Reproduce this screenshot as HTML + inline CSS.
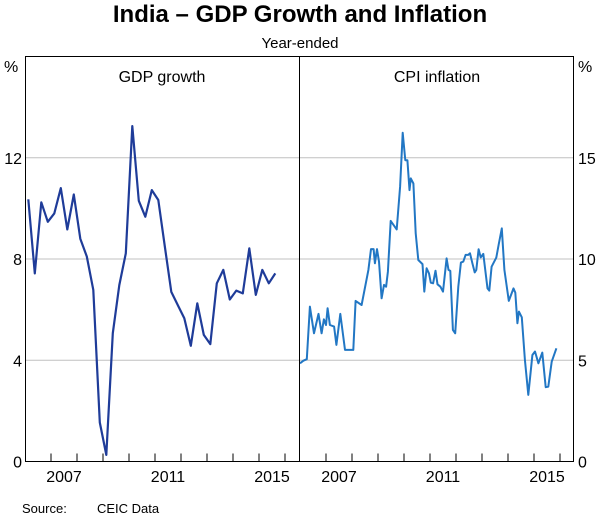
<!DOCTYPE html>
<html><head><meta charset="utf-8"><style>
body{margin:0;background:#fff;font-family:"Liberation Sans",sans-serif}
svg text{font-family:"Liberation Sans",sans-serif;fill:#000}
</style></head><body>
<svg id="c" width="600" height="520" xmlns="http://www.w3.org/2000/svg">
<text x="300" y="22" text-anchor="middle" font-size="24" font-weight="bold">India – GDP Growth and Inflation</text>
<text x="300" y="48" text-anchor="middle" font-size="15">Year-ended</text>
<text x="162" y="82" text-anchor="middle" font-size="16">GDP growth</text>
<text x="437" y="82" text-anchor="middle" font-size="16">CPI inflation</text>
<text x="4" y="72" font-size="16">%</text>
<text x="578" y="72" font-size="16">%</text>
<text x="22" y="513" font-size="13">Source:</text>
<text x="97" y="513" font-size="13">CEIC Data</text>
<g id="grid"></g><g id="ticks"></g><g id="lines"></g><g id="labels"></g>
<rect x="25.5" y="56.5" width="548" height="405" fill="none" stroke="#000" stroke-width="1"/>
<line x1="299.5" y1="56.5" x2="299.5" y2="461.5" stroke="#000"/>
</svg>
<script>
{
const gdpStart = 2006.125;
const gdpValues = [10.36,7.43,10.24,9.47,9.8,10.8,9.17,10.55,8.8,8.1,6.78,1.54,0.26,5.07,6.97,8.22,13.25,10.3,9.67,10.72,10.33,8.5,6.7,6.18,5.66,4.57,6.25,5.0,4.64,7.04,7.57,6.4,6.75,6.64,8.42,6.58,7.57,7.04,7.43];
const cpiDates = [2006.00,2006.13,2006.26,2006.38,2006.54,2006.71,2006.83,2006.92,2007.00,2007.06,2007.15,2007.31,2007.40,2007.55,2007.73,2008.05,2008.14,2008.37,2008.63,2008.73,2008.83,2008.88,2008.96,2009.04,2009.14,2009.23,2009.31,2009.38,2009.49,2009.72,2009.85,2009.95,2010.05,2010.13,2010.21,2010.26,2010.36,2010.45,2010.55,2010.71,2010.78,2010.87,2010.96,2011.03,2011.12,2011.21,2011.29,2011.40,2011.50,2011.64,2011.71,2011.78,2011.88,2011.97,2012.09,2012.19,2012.28,2012.37,2012.47,2012.54,2012.63,2012.72,2012.78,2012.87,2012.95,2013.05,2013.21,2013.28,2013.37,2013.55,2013.64,2013.76,2013.86,2014.03,2014.21,2014.28,2014.36,2014.42,2014.53,2014.65,2014.78,2014.94,2015.04,2015.17,2015.32,2015.45,2015.55,2015.68,2015.86];
const cpiValues = [4.85,4.98,5.05,7.65,6.33,7.29,6.33,7.02,6.74,7.57,6.74,6.66,5.76,7.29,5.51,5.51,7.93,7.73,9.46,10.49,10.49,9.79,10.49,9.87,8.06,8.72,8.63,9.38,11.88,11.46,13.57,16.23,14.88,14.88,13.40,13.98,13.73,11.27,9.95,9.75,8.39,9.54,9.29,8.83,8.80,9.42,8.75,8.63,8.39,10.03,9.46,9.41,6.50,6.33,8.63,9.82,9.87,10.20,10.20,10.28,9.79,9.34,9.46,10.48,10.08,10.25,8.55,8.44,9.62,10.07,10.69,11.51,9.46,7.93,8.55,8.34,6.83,7.40,7.12,5.02,3.29,5.26,5.43,4.85,5.38,3.67,3.70,4.93,5.59];
const leftTicks = [0,4,8,12];
const rightTicks = [0,5,10,15];
const yearTicks = [2007,2008,2009,2010,2011,2012,2013,2014,2015,2016];
const yearLabels = [2007,2011,2015];

const NS="http://www.w3.org/2000/svg";
const plotTop=56.5,plotBot=461.5;
const yL=v=>plotBot-(v/16)*(plotBot-plotTop);
const yR=v=>plotBot-(v/20)*(plotBot-plotTop);
const xL=d=>25+(d-2006)*26;
const xR=d=>300+(d-2006)*26;
function mk(tag,attrs,parent){const e=document.createElementNS(NS,tag);for(const k in attrs)e.setAttribute(k,attrs[k]);document.getElementById(parent).appendChild(e);return e;}
leftTicks.forEach(v=>{
  if(v>0){const g=mk('line',{x1:25,x2:574,y1:yL(v),y2:yL(v),stroke:'#c0c0c0','stroke-width':1},'grid');
  
  }
  const t=mk('text',{x:22,y:yL(v)+6,'text-anchor':'end','font-size':16},'labels');t.textContent=v;
  
  
});
rightTicks.forEach(v=>{
  const t=mk('text',{x:578,y:yR(v)+6,'font-size':16},'labels');t.textContent=v;
  
  
});
yearTicks.forEach(y=>{
  [xL(y),xR(y)].forEach(x=>{
    const l=mk('line',{x1:x,x2:x,y1:plotBot,y2:plotBot-8,stroke:'#000'},'ticks');
    
    
  });
});
yearLabels.forEach(y=>{
  [xL(y+0.5),xR(y+0.5)].forEach(x=>{
    const t=mk('text',{x:x,y:482,'text-anchor':'middle','font-size':16},'labels');t.textContent=y;
    
    
  });
});
const gp=gdpValues.map((v,i)=>xL(gdpStart+0.25*i).toFixed(1)+','+yL(v).toFixed(1)).join(' ');
const g=mk('polyline',{points:gp,fill:'none',stroke:'#1f3c99','stroke-width':2.2,'stroke-linejoin':'round'},'lines');


const cp=cpiValues.map((v,i)=>xR(cpiDates[i]).toFixed(1)+','+yR(v).toFixed(1)).join(' ');
const c=mk('polyline',{points:cp,fill:'none',stroke:'#2277c4','stroke-width':2,'stroke-linejoin':'round'},'lines');


}
</script>
</body></html>
